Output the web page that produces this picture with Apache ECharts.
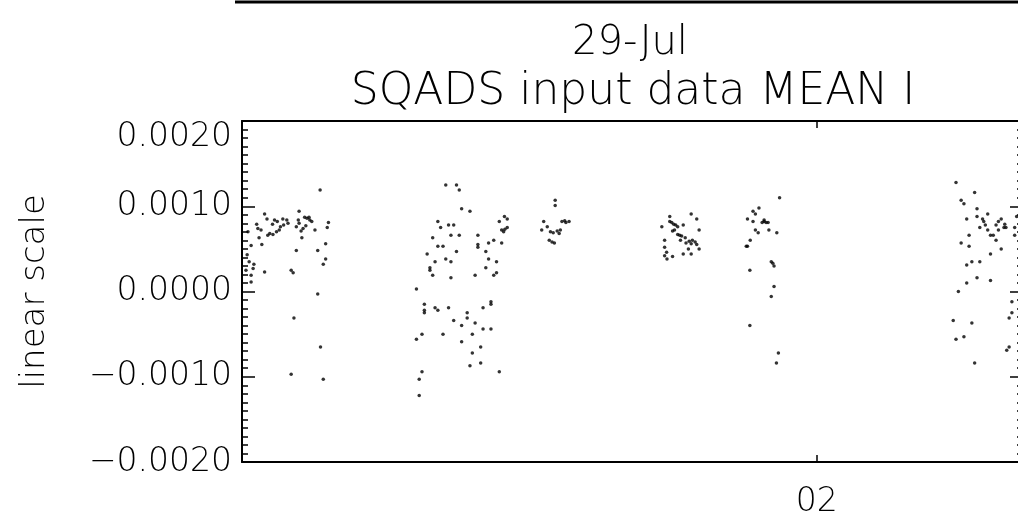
<!DOCTYPE html>
<html>
<head>
<meta charset="utf-8">
<script src="https://cdn.jsdelivr.net/npm/echarts@6.0.0/dist/echarts.min.js"></script>
<style>
  html, body { margin: 0; padding: 0; background: #fff; }
  #chart { width: 1018px; height: 518px; }
</style>
</head>
<body>
<div id="chart"></div>
<script>
// Time of day (decimal hours) and MEAN I value for each sample, grouped by pass.
const pass1 = [
  [0.607,0.00091],[0.694,0.00094],[0.613,0.00085],[0.627,0.00079],[0.632,0.00084],[0.639,0.00082],
  [0.653,0.00085],[0.663,0.00084],[0.666,0.00080],[0.655,0.00078],[0.647,0.00076],[0.644,0.00072],
  [0.637,0.00070],[0.628,0.00067],[0.620,0.00068],[0.615,0.00066],[0.587,0.00079],[0.590,0.00074],
  [0.598,0.00072],[0.593,0.00063],[0.600,0.00055],[0.692,0.00084],[0.694,0.00080],[0.687,0.00076],
  [0.708,0.00087],[0.714,0.00086],[0.719,0.00087],[0.721,0.00084],[0.726,0.00082],[0.734,0.00072],
  [0.711,0.00077],[0.704,0.00074],[0.699,0.00071],[0.701,0.00063],[0.768,0.00081],[0.765,0.00075],
  [0.761,0.00056],[0.741,0.00048],[0.687,0.00048],[0.761,0.00038],[0.755,0.00032],[0.580,0.00032],
  [0.578,0.00027],[0.607,0.00023],[0.674,0.00025],[0.679,0.00022],[0.573,0.00019],[0.573,0.00011],
  [0.573,0.00054],[0.563,0.00043],[0.747,0.00119],[0.741,-0.00003],[0.681,-0.00031],[0.748,-0.00065],
  [0.674,-0.00097],[0.755,-0.00103],[0.565,0.00070],[0.568,0.00035],[0.560,0.00025]
];
const pass2 = [
  [1.064,0.00125],[1.091,0.00125],[1.098,0.00119],[1.104,0.00097],[1.125,0.00094],[1.044,0.00082],
  [1.051,0.00075],[1.071,0.00078],[1.084,0.00078],[1.077,0.00066],[1.098,0.00066],[1.031,0.00063],
  [1.044,0.00053],[1.057,0.00053],[1.091,0.00047],[1.017,0.00044],[1.037,0.00035],[1.064,0.00038],
  [1.077,0.00035],[1.024,0.00028],[1.024,0.00025],[1.031,0.00019],[1.077,0.00016],[1.145,0.00066],
  [1.145,0.00052],[1.145,0.00055],[1.165,0.00047],[1.172,0.00057],[1.185,0.00060],[1.205,0.00057],
  [1.199,0.00082],[1.212,0.00088],[1.219,0.00085],[1.205,0.00072],[1.210,0.00070],[1.219,0.00075],
  [1.213,0.00073],[1.172,0.00038],[1.192,0.00035],[1.165,0.00028],[1.192,0.00022],[1.185,0.00019],
  [1.138,0.00019],[0.990,0.00003],[1.010,-0.00015],[1.010,-0.00022],[1.010,-0.00025],[1.037,-0.00019],
  [1.044,-0.00022],[1.071,-0.00019],[1.118,-0.00025],[1.118,-0.00031],[1.084,-0.00034],[1.104,-0.00040],
  [1.138,-0.00037],[1.158,-0.00019],[1.178,-0.00012],[1.178,-0.00015],[1.158,-0.00044],[1.178,-0.00044],
  [1.004,-0.00050],[0.990,-0.00056],[1.057,-0.00050],[1.131,-0.00050],[1.104,-0.00059],[1.152,-0.00065],
  [1.131,-0.00072],[1.152,-0.00084],[1.125,-0.00087],[1.199,-0.00094],[1.004,-0.00094],[0.997,-0.00103],
  [0.997,-0.00122]
];
const pass3 = [
  [1.340,0.00107],[1.340,0.00101],[1.311,0.00082],[1.320,0.00076],[1.306,0.00072],[1.328,0.00070],
  [1.335,0.00069],[1.345,0.00071],[1.353,0.00072],[1.357,0.00082],[1.364,0.00083],[1.367,0.00081],
  [1.375,0.00082],[1.350,0.00068],[1.325,0.00060],[1.332,0.00058],[1.338,0.00057]
];
const pass4 = [
  [1.683,0.00091],[1.629,0.00088],[1.697,0.00085],[1.609,0.00076],[1.629,0.00082],[1.634,0.00081],
  [1.639,0.00079],[1.644,0.00078],[1.649,0.00076],[1.663,0.00078],[1.703,0.00072],[1.641,0.00072],
  [1.636,0.00071],[1.649,0.00067],[1.654,0.00066],[1.659,0.00065],[1.668,0.00063],[1.656,0.00060],
  [1.616,0.00060],[1.678,0.00059],[1.686,0.00060],[1.693,0.00058],[1.670,0.00057],[1.683,0.00056],
  [1.697,0.00055],[1.616,0.00052],[1.676,0.00050],[1.703,0.00050],[1.621,0.00046],[1.616,0.00042],
  [1.663,0.00044],[1.683,0.00044],[1.636,0.00041],[1.622,0.00038]
];
const pass5 = [
  [1.906,0.00110],[1.854,0.00098],[1.839,0.00094],[1.845,0.00091],[1.825,0.00085],[1.839,0.00082],
  [1.867,0.00082],[1.862,0.00081],[1.872,0.00081],[1.877,0.00081],[1.867,0.00084],[1.845,0.00072],
  [1.852,0.00069],[1.879,0.00072],[1.899,0.00069],[1.832,0.00060],[1.822,0.00053],[1.825,0.00053],
  [1.885,0.00035],[1.892,0.00030],[1.889,0.00033],[1.831,0.00025],[1.892,0.00006],[1.885,-0.00006],
  [1.831,-0.00040],[1.903,-0.00072],[1.898,-0.00084]
];
const pass6 = [
  [2.351,0.00128],[2.398,0.00116],[2.364,0.00107],[2.371,0.00103],[2.404,0.00097],[2.431,0.00091],
  [2.404,0.00088],[2.378,0.00085],[2.418,0.00085],[2.421,0.00082],[2.425,0.00078],[2.411,0.00075],
  [2.431,0.00072],[2.438,0.00066],[2.445,0.00066],[2.452,0.00060],[2.465,0.00050],[2.458,0.00072],
  [2.452,0.00078],[2.458,0.00082],[2.465,0.00085],[2.472,0.00075],[2.477,0.00075],[2.474,0.00079],
  [2.499,0.00075],[2.499,0.00066],[2.504,0.00088],[2.384,0.00066],[2.364,0.00057],[2.384,0.00053],
  [2.438,0.00044],[2.378,0.00031],[2.391,0.00035],[2.411,0.00035],[2.404,0.00016],[2.438,0.00013],
  [2.378,0.00010],[2.357,0.00000],[2.492,-0.00012],[2.492,-0.00025],[2.485,-0.00031],[2.344,-0.00034],
  [2.391,-0.00037],[2.351,-0.00056],[2.371,-0.00053],[2.485,-0.00065],[2.479,-0.00069],[2.398,-0.00084]
];

// Axis ranges and tick labels
const xRange = [0.55, 2.52];
const xTickValues = [2];
const xTickLabels = ['02'];
const yRange = [-0.002, 0.002];
const yStep = 0.001;
const yTickLabels = ['\u22120.0020', '\u22120.0010', '0.0000', '0.0010', '0.0020'];

const FONT = 'DejaVu Sans';
const INK = '#000';

function yLabel(v) {
  const i = Math.round((v - yRange[0]) / yStep);
  return yTickLabels[i] !== undefined ? yTickLabels[i] : '';
}
function xLabel(v) {
  const i = xTickValues.findIndex(t => Math.abs(t - v) < 1e-9);
  return i >= 0 ? xTickLabels[i] : '';
}

const frameLine = { show: true, onZero: false, lineStyle: { color: INK, width: 2 } };

const yCommon = {
  type: 'value',
  min: yRange[0],
  max: yRange[1],
  interval: yStep,
  splitLine: { show: false },
  axisLine: frameLine,
  axisTick: { show: true, inside: true, length: 13, lineStyle: { color: INK, width: 1.5 } },
  minorTick: { show: true, splitNumber: 10, length: 6, lineStyle: { color: INK, width: 1.5 } },
  minorSplitLine: { show: false }
};

const xCommon = {
  type: 'value',
  min: xRange[0],
  max: xRange[1],
  splitLine: { show: false },
  axisLine: frameLine,
  axisTick: { show: true, inside: true, length: 7, customValues: xTickValues, lineStyle: { color: INK, width: 1.5 } }
};

const chart = echarts.init(document.getElementById('chart'), null, { renderer: 'canvas' });
chart.setOption({
  animation: false,
  backgroundColor: '#fff',
  title: [
    { text: '29-Jul', left: 630, top: 24, textAlign: 'center', padding: 0,
      textStyle: { fontFamily: FONT, fontSize: 40, fontWeight: 200, color: INK } },
    { text: 'SQADS input data MEAN I', left: 633, top: 71, textAlign: 'center', padding: 0,
      textStyle: { fontFamily: FONT, fontSize: 44, fontWeight: 200, color: INK } }
  ],
  graphic: [
    { type: 'line', shape: { x1: 235, y1: 2, x2: 1018, y2: 2 }, style: { stroke: INK, lineWidth: 3 } }
  ],
  grid: { left: 242, top: 121, right: -5, bottom: 56, containLabel: false, outerBoundsMode: 'none' },
  xAxis: [
    Object.assign({}, xCommon, {
      position: 'bottom',
      axisLabel: { show: true, customValues: xTickValues, formatter: xLabel, margin: 24,
        fontFamily: FONT, fontSize: 33, fontWeight: 200, color: INK }
    }),
    Object.assign({}, xCommon, { position: 'top', axisLabel: { show: false } })
  ],
  yAxis: [
    Object.assign({}, yCommon, {
      position: 'left',
      name: 'linear scale',
      nameLocation: 'middle',
      nameGap: 190,
      nameTextStyle: { fontFamily: FONT, fontSize: 34, fontWeight: 200, color: INK },
      axisLabel: { show: true, formatter: yLabel, margin: 10, verticalAlignMaxLabel: 'top',
        fontFamily: FONT, fontSize: 33, fontWeight: 200, color: INK }
    }),
    Object.assign({}, yCommon, { position: 'right', axisLabel: { show: false } })
  ],
  series: [{
    type: 'scatter',
    xAxisIndex: 0,
    yAxisIndex: 0,
    symbol: 'circle',
    symbolSize: 3.5,
    itemStyle: { color: '#000' },
    data: [].concat(pass1, pass2, pass3, pass4, pass5, pass6)
  }]
});
</script>
</body>
</html>
